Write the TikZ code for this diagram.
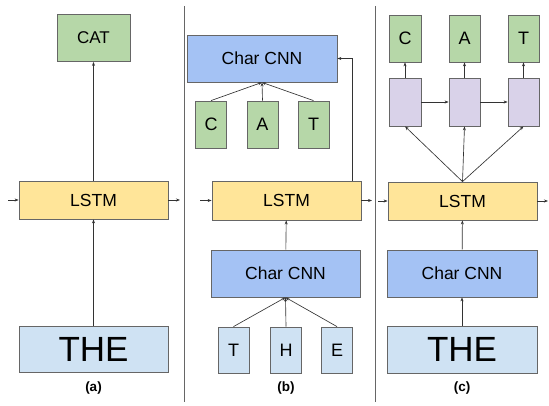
\documentclass[tikz,border=0pt]{standalone}
\usepackage{fontspec}
\setmainfont{Liberation Sans}
\usetikzlibrary{arrows.meta,calc}
\definecolor{gfill}{HTML}{B6D7A8}
\definecolor{bfill}{HTML}{A4C2F4}
\definecolor{lbfill}{HTML}{CFE2F3}
\definecolor{yfill}{HTML}{FFE599}
\definecolor{pfill}{HTML}{D9D2E9}
\definecolor{edge}{HTML}{666666}
\definecolor{arr}{HTML}{333333}
\begin{document}
\begin{tikzpicture}[x=1pt,y=-1pt,
  box/.style={draw=edge,line width=0.8pt,rectangle,inner sep=0pt,text=black},
  green/.style={box,fill=gfill,minimum width=31pt,minimum height=47pt,font=\fontsize{18}{20}\selectfont},
  cnn/.style={box,fill=bfill,minimum width=150pt,minimum height=47pt,font=\fontsize{17.5}{20}\selectfont},
  lstm/.style={box,fill=yfill,minimum width=149pt,minimum height=38pt,font=\fontsize{17.5}{20}\selectfont},
  word/.style={box,fill=lbfill,minimum width=149pt,minimum height=46pt,font=\fontsize{35}{40}\selectfont},
  chr/.style={box,fill=lbfill,minimum width=31pt,minimum height=46pt,font=\fontsize{18}{20}\selectfont},
  rnn/.style={box,fill=pfill,minimum width=32pt,minimum height=48pt},
  conn/.style={draw=arr,line width=0.65pt,-{Stealth[length=4pt,width=3pt]}},
  caption/.style={font=\bfseries\fontsize{13.5}{15}\selectfont},
  divider/.style={draw=edge,line width=0.8pt}]
\useasboundingbox (0,0) rectangle (549,406);
% dividers
\draw[divider] (184,6) -- (184,402);
\draw[divider] (375,6) -- (375,402);
% panel (a)
\node[green,minimum width=73pt,font=\fontsize{17}{20}\selectfont] (cat) at (93.5,38) {CAT};
\node[lstm] (lstma) at (93.5,200) {LSTM};
\node[word] (thea) at (93.5,349) {THE};
\node[caption] (capa) at (93.5,388) {(a)};
\coordinate (ina) at (8,200);
\coordinate (outa) at (180,200);
\draw[conn] (thea) -- (lstma);
\draw[conn] (lstma) -- (cat);
\draw[conn] (ina) -- (lstma);
\draw[conn] (lstma) -- (outa);
% panel (b)
\node[cnn] (cnntop) at (262,58.5) {Char CNN};
\node[green] (cb) at (211,124.5) {C};
\node[green] (ab) at (262.5,124.5) {A};
\node[green] (tb) at (313.5,124.5) {T};
\node[lstm,minimum height=39pt] (lstmb) at (286.5,200.5) {LSTM};
\node[cnn,minimum width=149pt] (cnnb) at (285.5,273.5) {Char CNN};
\node[chr] (tbb) at (233.5,350) {T};
\node[chr] (hbb) at (286,350) {H};
\node[chr] (ebb) at (337,350) {E};
\node[caption] (capb) at (286,388) {(b)};
\coordinate (inb) at (200,200.5);
\coordinate (outb) at (372,200.5);
\coordinate (upb) at ($(lstmb.north east)+(-9,0)$);
\draw[conn] (cb.north) -- (cnntop.south);
\draw[conn] (ab.north) -- (cnntop.south);
\draw[conn] (tb.north) -- (cnntop.south);
\draw[conn] (upb) |- (cnntop.east);
\draw[conn] (cnnb) -- (lstmb);
\draw[conn] (tbb.north) -- (cnnb.south);
\draw[conn] (hbb.north) -- (cnnb.south);
\draw[conn] (ebb.north) -- (cnnb.south);
\draw[conn] (inb) -- (lstmb);
\draw[conn] (lstmb) -- (outb);
% panel (c)
\node[green,minimum width=32pt] (cc) at (405,38.5) {C};
\node[green] (ac) at (464.5,38.5) {A};
\node[green] (tc) at (523.5,38.5) {T};
\node[rnn] (p1) at (405,102) {};
\node[rnn,minimum width=31pt] (p2) at (464.5,102) {};
\node[rnn,minimum width=31pt] (p3) at (523.5,102) {};
\node[lstm] (lstmc) at (462.5,201) {LSTM};
\node[cnn] (cnnc) at (462,273.5) {Char CNN};
\node[word,minimum width=150pt,minimum height=47pt] (thec) at (462,349.5) {THE};
\node[caption] (capc) at (462,388) {(c)};
\coordinate (inc) at (378,201);
\coordinate (outc) at (548,201);
\draw[conn] (thec) -- (cnnc);
\draw[conn] (cnnc) -- (lstmc);
\draw[conn] (lstmc.north) -- (p1.south);
\draw[conn] (lstmc.north) -- (p2.south);
\draw[conn] (lstmc.north) -- (p3.south);
\draw[conn] (p1) -- (cc);
\draw[conn] (p2) -- (ac);
\draw[conn] (p3) -- (tc);
\draw[conn] (p1) -- (p2);
\draw[conn] (p2) -- (p3);
\draw[conn] (inc) -- (lstmc);
\draw[conn] (lstmc) -- (outc);
\end{tikzpicture}
\end{document}
